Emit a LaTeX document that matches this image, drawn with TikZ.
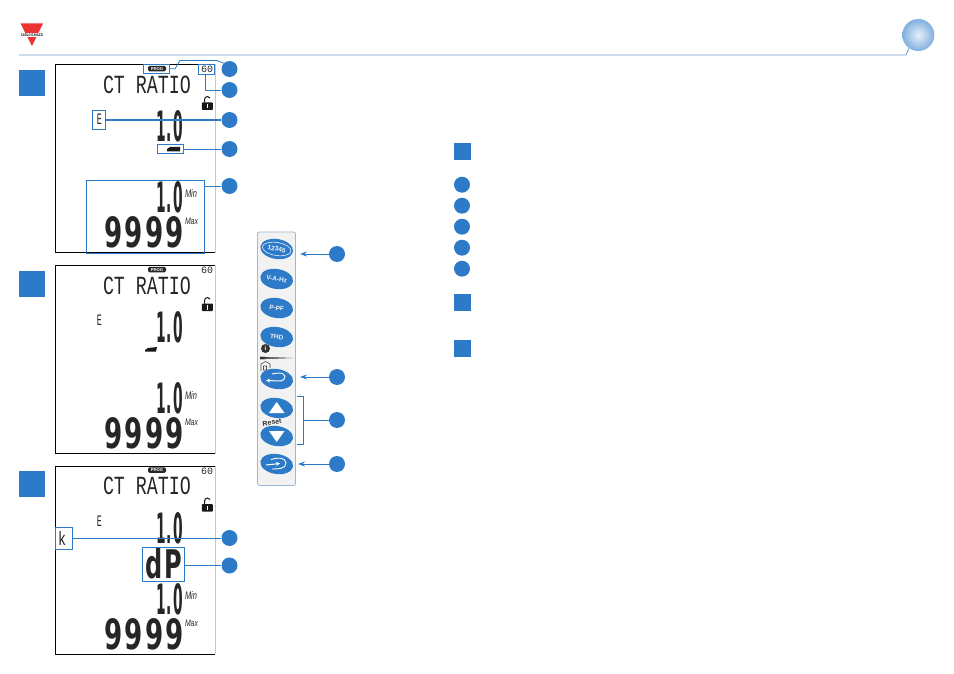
\documentclass[tikz,border=0pt]{standalone}
\usepackage{fontspec}
\setmainfont{Liberation Sans}
\newfontfamily\lcdmono{Liberation Mono}
\newfontfamily\lcdbold{DejaVu Sans}[BoldFont={DejaVu Sans Bold},LetterSpace=9]
\usetikzlibrary{arrows.meta,shapes.geometric}
\definecolor{cgblue}{HTML}{2D7BC8}
\definecolor{cgline}{HTML}{7399C6}
\definecolor{cgred}{HTML}{EE3333}
\tikzset{
  square/.style={fill=cgblue,draw=none,minimum size=26pt,inner sep=0pt},
  smallsquare/.style={fill=cgblue,draw=none,minimum size=17pt,inner sep=0pt},
  badge/.style={circle,fill=cgblue,draw=none,minimum size=16pt,inner sep=0pt},
  callbox/.style={draw=cgblue,line width=0.8pt,inner sep=0pt},
  callline/.style={draw=cgblue,line width=0.8pt},
  thickline/.style={draw=cgblue,line width=1.6pt},
  arrowline/.style={draw=cgblue,line width=0.9pt,-{Stealth[length=7pt,width=5pt]}},
  lcd/.style={inner sep=0pt,text=black!85},
  keybtn/.style={ellipse,fill=cgblue,minimum width=33pt,minimum height=20pt,inner sep=0pt,rotate=-9,text=white!90!cgblue,font=\bfseries\fontsize{6.5}{7}\selectfont},
  prog/.style={fill=black!85,rounded corners=1.5pt,text=white,inner sep=0pt,minimum width=18pt,minimum height=5.5pt,font=\bfseries\fontsize{4.2}{5}\selectfont},
}
% name, centre x, centre y, width, height, font, text
\newcommand{\lcdtext}[7]{\node[lcd] (#1) at (#2,#3) {\resizebox{#4pt}{#5pt}{#6\relax#7}};}
\newcommand{\lcdpanel}[2]{%
  \begin{scope}[shift={(0,#2)}]
    \draw[black,line width=0.9pt] (215,64.5) -- (55.5,64.5) -- (55.5,252.5) -- (215,252.5);
    \draw[black!22,line width=0.7pt] (215,64.5) -- (215,252.5);
    \node[prog] (prog#1) at (157,68.6) {PROG};
    \lcdtext{sixty#1}{207}{69.3}{12}{6.5}{\lcdmono}{60}
    \lcdtext{ratio#1}{147}{84.5}{88}{17.5}{\lcdmono}{CT RATIO}
    \lcdtext{e#1}{99.3}{119.7}{5}{10.5}{\lcdmono}{E}
    \fill[black!90,rounded corners=0.8pt] (201.8,102.5) rectangle (212.8,110);
    \draw[black!90,line width=1pt] (204.5,102.5) -- (204.5,99.5) arc[start angle=180,end angle=30,radius=3pt];
    \fill[white] (206.6,104) rectangle (208,108.5);
    \lcdtext{minlab#1}{191}{194}{12}{8}{\itshape}{Min}
    \lcdtext{maxlab#1}{191.5}{221.5}{13}{6.5}{\itshape}{Max}
    \lcdtext{nine#1}{144}{232.5}{80}{31}{\lcdbold\bfseries}{9999}
  \end{scope}}
\begin{document}
\begin{tikzpicture}[x=1pt,y=-1pt]
\useasboundingbox (0,0) rectangle (954,674);
\fill[white] (0,0) rectangle (954,674);

% header
\fill[cgred] (20.5,23.5) -- (43,23.5) -- (32,46) -- cycle;
\fill[white] (20,33.3) rectangle (44,36.6);
\node[inner sep=0pt] (logo) at (32,35) {\resizebox{22pt}{2.6pt}{\bfseries CARLO GAVAZZI}};
\shade[inner color=white!88!cgblue,outer color=cgblue!60!white] (918.3,35) circle[radius=16pt];
\node[circle,minimum size=32pt,inner sep=0pt] (globe) at (918.3,35) {};
\coordinate (rule0) at (19,55);
\coordinate (rule1) at (906,55);
\draw[cgline,line width=0.8pt] (rule0) -- (rule1) -- (globe.-125);

% LCD panels
\lcdpanel{a}{0}
\lcdpanel{b}{201}
\lcdpanel{c}{401.5}

% panel numerals
\lcdtext{vala}{169.5}{126.5}{27}{31}{\lcdbold\bfseries}{1.0}
\lcdtext{mina}{169.5}{197.5}{27}{31}{\lcdbold\bfseries}{1.0}
\fill[black!90] (167,149) -- (170,147) -- (180,147) -- (180,151.5) -- (167,151.5) -- cycle;

\lcdtext{valb}{169.5}{327.5}{27}{31}{\lcdbold\bfseries}{1.0}
\lcdtext{minb}{169.5}{398.5}{27}{31}{\lcdbold\bfseries}{1.0}
\fill[black!90] (145,350) -- (148,348) -- (157,347) -- (156,351.5) -- (145,351.5) -- cycle;

\lcdtext{valc}{169.5}{528}{27}{31}{\lcdbold\bfseries}{1.0}
\lcdtext{minc}{169.5}{599}{27}{31}{\lcdbold\bfseries}{1.0}
\lcdtext{dp}{164}{564}{37}{30}{\lcdbold\bfseries}{dP}
\lcdtext{kk}{62}{538.5}{8}{14}{\lcdmono}{k}

% step squares
\node[square] (s1) at (32,83) {};
\node[square] (s2) at (32,284) {};
\node[square] (s3) at (32,484) {};

% call-out boxes and badges, panel 1
\node[callbox,minimum width=26pt,minimum height=8.5pt] (bprog) at (156.5,68.8) {};
\node[callbox,minimum width=16pt,minimum height=9.5pt] (bsixty) at (206.5,69.3) {};
\node[callbox,minimum width=13pt,minimum height=19.5pt] (be) at (99,120) {};
\node[callbox,minimum width=26pt,minimum height=9pt] (barrow) at (170.5,149) {};
\node[callbox,minimum width=118pt,minimum height=72.5pt] (brange) at (145.5,217) {};
\node[badge] (c1) at (229.5,69) {};
\node[badge] (c2) at (229.5,90) {};
\node[badge] (c3) at (229.5,120) {};
\node[badge] (c4) at (229.5,149) {};
\node[badge] (c5) at (229.5,186) {};
\draw[callline] (bprog.east) -- (175,68.8) -- (180,60.5) -- (217,60.5) -- (c1.north west);
\draw[callline] (bsixty.south -| 205.5,0) |- (c2.west);
\draw[thickline] (be.east) -- (c3.west);
\draw[callline] (barrow.east) -- (c4.west);
\draw[callline] (brange.east |- c5.west) -- (c5.west);

% call-out boxes and badges, panel 3
\node[callbox,minimum width=17pt,minimum height=22pt] (bk) at (64,538) {};
\node[callbox,minimum width=42pt,minimum height=34pt] (bdp) at (163.5,564) {};
\node[badge] (c6) at (229.5,538) {};
\node[badge] (c7) at (229.5,565.5) {};
\draw[callline] (bk.east) -- (c6.west);
\draw[callline] (bdp.east |- c7.west) -- (c7.west);

% keypad
\draw[draw=cgline!70,fill=black!5,line width=0.8pt,rounded corners=2pt] (257.5,232) rectangle (295.5,485.5);
\node[keybtn] (k1) at (276.7,249) {12345};
\draw[white,line width=0.5pt,rotate around={-9:(276.7,249)}] (276.7,249) ellipse[x radius=14.5pt,y radius=6.5pt];
\node[keybtn] (k2) at (276.7,279) {V-A-Hz};
\node[keybtn] (k3) at (276.7,308) {P-PF};
\node[keybtn] (k4) at (276.7,337) {THD};
\node[circle,fill=black!80,text=white,minimum size=9pt,inner sep=0pt,font=\bfseries\fontsize{6}{6}\selectfont] (info) at (265.5,348.5) {i};
\fill[left color=black!85,right color=black!5] (260,356.8) -- (292,358) -- (260,359.2) -- cycle;
\draw[black!70,line width=0.6pt] (261,371) -- (261,364) -- (265.5,361.5) -- (270,364) -- (270,368) (263.5,366) rectangle (266.5,370);
\node[keybtn] (k5) at (276.7,379) {};
\draw[white,line width=1pt,-{Stealth[length=4pt,width=4pt]}] (285,376) to[out=-90,in=5] (281,381) -- (266,380.5);
\draw[white,line width=0.9pt] (272,374) to[out=10,in=120] (285,376);
\node[keybtn] (k6) at (276.7,408) {};
\fill[white] (276.7,402) -- (284.5,413) -- (269,413) -- cycle;
\node[keybtn] (k7) at (276.7,436) {};
\fill[white] (276.7,442) -- (284.5,431) -- (269,431) -- cycle;
\node[inner sep=0pt,rotate=8,text=black!80,font=\bfseries\fontsize{7}{8}\selectfont] (reset) at (272,422.5) {Reset};
\node[keybtn] (k8) at (276.7,464) {};
\draw[white,line width=1pt,-{Stealth[length=4pt,width=4pt]}] (266,465) -- (280,463.5);
\draw[white,line width=0.9pt] (271,459.5) to[out=20,in=90] (286,463) to[out=-90,in=0] (272,469);

\node[badge] (c8) at (337,254) {};
\node[badge] (c9) at (337,377) {};
\node[badge] (c10) at (337,420) {};
\node[badge] (c11) at (337,464) {};
\coordinate (a8) at (300,254);
\coordinate (a9) at (300,377);
\coordinate (a11) at (298,464);
\coordinate (br0) at (297,396.5);
\coordinate (br1) at (303.5,396.5);
\coordinate (br2) at (303.5,444);
\coordinate (br3) at (297,444);
\draw[arrowline] (c8.west) -- (a8);
\draw[arrowline] (c9.west) -- (a9);
\draw[arrowline] (c11.west) -- (a11);
\draw[callline] (br0) -- (br1) -- (br2) -- (br3);
\draw[callline] (br1 |- c10.west) -- (c10.west);

% legend column
\node[smallsquare] (r1) at (462,151.5) {};
\node[badge] (l1) at (462,184.7) {};
\node[badge] (l2) at (462,205.7) {};
\node[badge] (l3) at (462,226.7) {};
\node[badge] (l4) at (462,247.7) {};
\node[badge] (l5) at (462,268.7) {};
\node[smallsquare] (r2) at (462,302) {};
\node[smallsquare] (r3) at (462,348) {};
\end{tikzpicture}
\end{document}
